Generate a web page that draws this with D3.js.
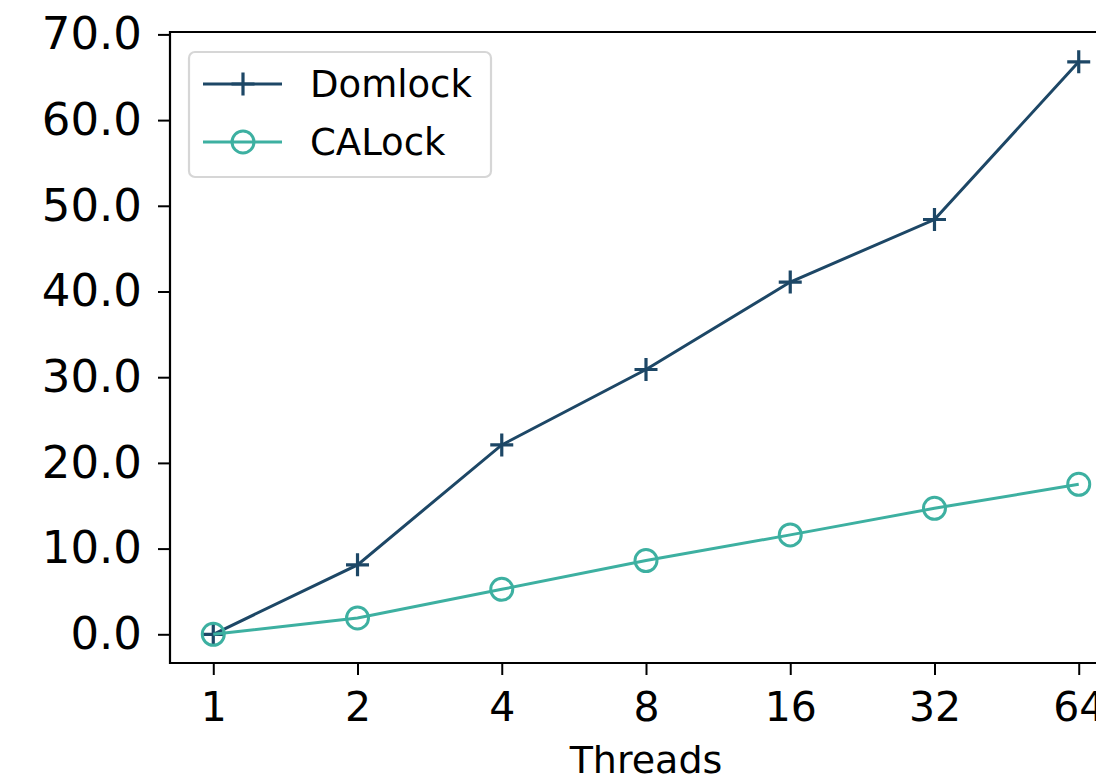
<!DOCTYPE html>
<html>
<head>
<meta charset="utf-8">
<script src="https://cdn.jsdelivr.net/npm/d3@7"></script>
<style>
  html, body { margin: 0; padding: 0; background: #fff; }
  svg { display: block; font-family: "DejaVu Sans", sans-serif; }
</style>
</head>
<body>
<svg width="1096" height="781"></svg>
<script>
// data
const threads = ['1', '2', '4', '8', '16', '32', '64'];
const domlock = [0, 8.1, 22.1, 30.9, 41.1, 48.4, 66.8];
const calock = [0, 1.9, 5.25, 8.6, 11.6, 14.7, 17.5];
const yTicks = [0, 10, 20, 30, 40, 50, 60, 70];

const svg = d3.select('svg');

// axes box (right side runs past the window like the original)
const plotLeft = 170, plotRight = 1122, plotTop = 32, plotBottom = 663;

const x = d3.scaleLinear().domain([-0.3, threads.length - 1 + 0.3]).range([plotLeft, plotRight]);
const y = d3.scaleLinear().domain([-3.35, 70.28]).range([plotBottom, plotTop]);

const navy = '#1d4766';
const teal = '#3db0a1';

// y axis
const yAxis = svg.append('g')
  .attr('transform', `translate(${plotLeft},0)`)
  .call(d3.axisLeft(y).tickValues(yTicks).tickFormat(d3.format('.1f')).tickSize(12).tickPadding(16));
yAxis.select('.domain').remove();
yAxis.selectAll('line').attr('stroke', '#000').attr('stroke-width', 2);
yAxis.selectAll('text').attr('font-size', 45).attr('fill', '#000')
  .attr('font-family', '"DejaVu Sans", sans-serif');

// x axis
const xAxis = svg.append('g')
  .attr('transform', `translate(0,${plotBottom})`)
  .call(d3.axisBottom(x).tickValues(d3.range(threads.length)).tickFormat(i => threads[i]).tickSize(12).tickPadding(17));
xAxis.select('.domain').remove();
xAxis.selectAll('line').attr('stroke', '#000').attr('stroke-width', 2);
xAxis.selectAll('text').attr('font-size', 41).attr('fill', '#000')
  .attr('font-family', '"DejaVu Sans", sans-serif');

// spines
svg.append('path')
  .attr('d', `M${plotRight},${plotTop}H${plotLeft}V${plotBottom}H${plotRight}`)
  .attr('fill', 'none')
  .attr('stroke', '#000')
  .attr('stroke-width', 2.2);

// axis label
svg.append('text')
  .attr('x', (plotLeft + plotRight) / 2)
  .attr('y', 773)
  .attr('text-anchor', 'middle')
  .attr('font-size', 38)
  .text('Threads');

const line = d3.line().x((d, i) => x(i)).y(d => y(d));

// Domlock line with plus markers
svg.append('path')
  .datum(domlock)
  .attr('d', line)
  .attr('fill', 'none')
  .attr('stroke', navy)
  .attr('stroke-width', 3);

const plus = 11.5;
svg.append('g').selectAll('path')
  .data(domlock)
  .join('path')
  .attr('d', (d, i) => `M${x(i) - plus},${y(d)}H${x(i) + plus}M${x(i)},${y(d) - plus}V${y(d) + plus}`)
  .attr('stroke', navy)
  .attr('stroke-width', 3.2)
  .attr('fill', 'none');

// CALock line with open circle markers
svg.append('path')
  .datum(calock)
  .attr('d', line)
  .attr('fill', 'none')
  .attr('stroke', teal)
  .attr('stroke-width', 3);

svg.append('g').selectAll('circle')
  .data(calock)
  .join('circle')
  .attr('cx', (d, i) => x(i))
  .attr('cy', d => y(d))
  .attr('r', 11)
  .attr('fill', 'none')
  .attr('stroke', teal)
  .attr('stroke-width', 3);

// legend
const legend = svg.append('g');
legend.append('rect')
  .attr('x', 189).attr('y', 52)
  .attr('width', 302).attr('height', 125)
  .attr('rx', 6)
  .attr('fill', 'rgba(255,255,255,0.8)')
  .attr('stroke', '#d6d6d6')
  .attr('stroke-width', 2.2);

const entries = [
  { name: 'Domlock', color: navy, marker: 'plus', y: 84 },
  { name: 'CALock', color: teal, marker: 'circle', y: 142 }
];
entries.forEach(e => {
  legend.append('line')
    .attr('x1', 203).attr('x2', 282)
    .attr('y1', e.y).attr('y2', e.y)
    .attr('stroke', e.color).attr('stroke-width', 3);
  if (e.marker === 'plus') {
    legend.append('path')
      .attr('d', `M${243 - plus},${e.y}H${243 + plus}M243,${e.y - plus}V${e.y + plus}`)
      .attr('stroke', e.color).attr('stroke-width', 3.2);
  } else {
    legend.append('circle')
      .attr('cx', 243).attr('cy', e.y).attr('r', 11)
      .attr('fill', 'none').attr('stroke', e.color).attr('stroke-width', 3);
  }
  legend.append('text')
    .attr('x', 310)
    .attr('y', e.y)
    .attr('dy', '0.36em')
    .attr('font-size', 37)
    .text(e.name);
});
</script>
</body>
</html>
